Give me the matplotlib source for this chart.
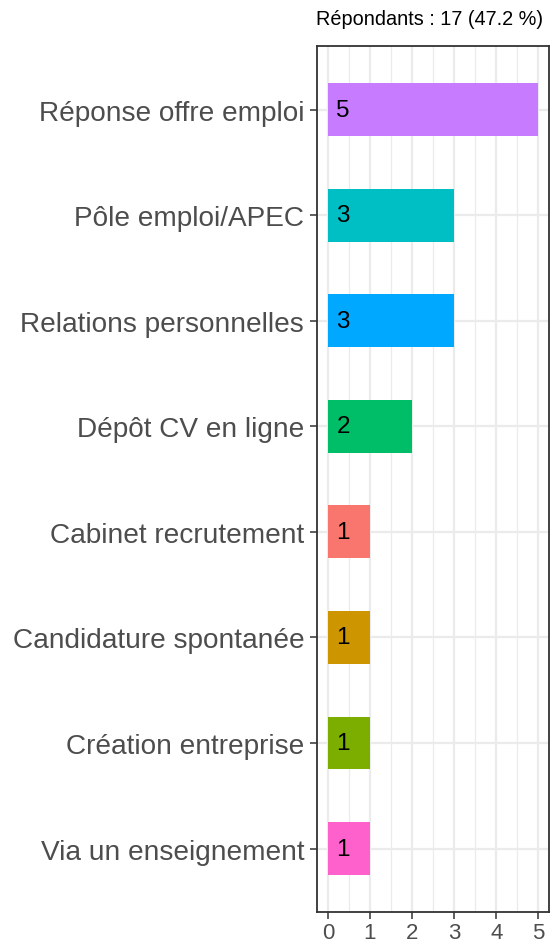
import numpy as np
import matplotlib
matplotlib.use("Agg")
from matplotlib import pyplot as plt

# données
categories = ["Réponse offre emploi", "Pôle emploi/APEC", "Relations personnelles",
              "Dépôt CV en ligne", "Cabinet recrutement", "Candidature spontanée",
              "Création entreprise", "Via un enseignement"]
counts = [5, 3, 3, 2, 1, 1, 1, 1]
colors = ["#C77CFF", "#00BFC4", "#00A9FF", "#00BE67",
          "#F8766D", "#CD9600", "#7CAE00", "#FF61CC"]
title = "Répondants : 17 (47.2 %)"

plt.rcParams['font.family'] = ['Liberation Sans', 'DejaVu Sans']

fig = plt.figure(figsize=(5.5, 9.45), dpi=100)
ax = fig.add_axes([0.577, 0.034, 0.421, 0.916])

n = len(categories)
ypos = np.arange(n)[::-1] + 1  # premier en haut
ax.barh(ypos, counts, height=0.5, color=colors, zorder=3)
for y, v in zip(ypos, counts):
    ax.text(0.36, y, str(v), ha='center', va='center', fontsize=17.5, color='black', zorder=4)

ax.set_xlim(-0.25, 5.25)
ax.set_ylim(0.4, n + 0.6)
ax.set_xticks(range(6))
ax.set_xticks(np.arange(0.5, 5, 1), minor=True)
ax.set_yticks(ypos)
ax.set_yticklabels(categories)

ax.grid(True, which='major', color='#EBEBEB', linewidth=1.6, zorder=0)
ax.grid(True, which='minor', axis='x', color='#EBEBEB', linewidth=0.9, zorder=0)
ax.set_axisbelow(True)

for s in ax.spines.values():
    s.set_color('#333333')
    s.set_linewidth(1.3)

ax.tick_params(axis='y', which='major', labelsize=20.2, labelcolor='#4D4D4D',
               color='#333333', length=5, width=1.1, pad=4.5)
ax.tick_params(axis='x', which='major', labelsize=16, labelcolor='#4D4D4D',
               color='#333333', length=5, width=1.1, pad=2)
ax.tick_params(axis='x', which='minor', length=0)

fig.text(0.987, 0.979, title, ha='right', va='center', fontsize=14.3, color='black')

fig.savefig("out.png", dpi=100)
